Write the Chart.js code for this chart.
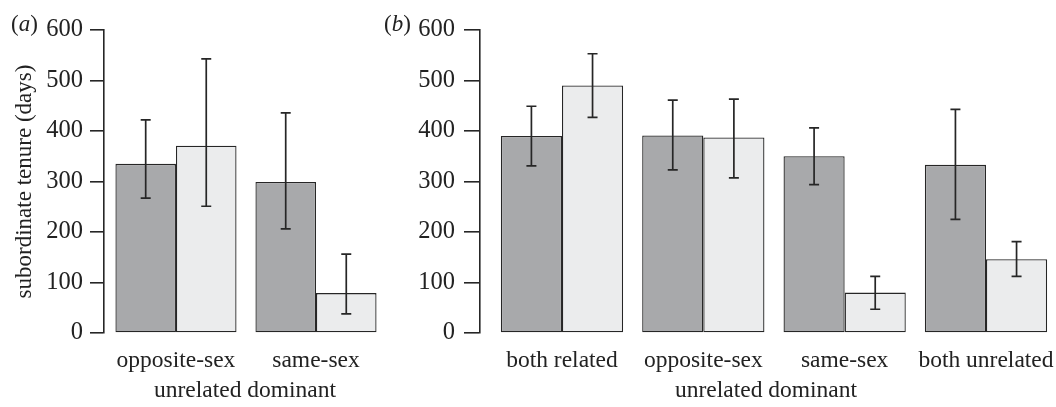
<!DOCTYPE html>
<html>
<head>
<meta charset="utf-8">
<script src="https://cdn.jsdelivr.net/npm/chart.js@4.4.1/dist/chart.umd.min.js"></script>
<style>
  html, body { margin: 0; padding: 0; background: #ffffff; }
  body { width: 1056px; height: 407px; position: relative; overflow: hidden; font-family: "Liberation Serif", serif; color: #222; }
  .wrap { position: absolute; top: 0; height: 407px; }
  #wa { left: 0; width: 400px; }
  #wb { left: 385px; width: 671px; }
  .plabel { position: absolute; line-height: 1; color: #222; font-family: "Liberation Serif", serif; }
  .plabel i { font-style: italic; }
</style>
</head>
<body>
<div class="wrap" id="wa"><canvas id="ca" width="400" height="407"></canvas></div>
<div class="wrap" id="wb"><canvas id="cb" width="671" height="407"></canvas></div>
<div class="plabel" style="left:11px; top:12px; font-size:23px;">(<i>a</i>)</div>
<div class="plabel" style="left:384px; top:12px; font-size:23px;">(<i>b</i>)</div>
<script>
// ---------- data ----------
const yTicks = [0, 100, 200, 300, 400, 500, 600];

const categoriesA = ['opposite-sex', 'same-sex'];
const tenureDarkA = [335, 299];
const lowDarkA    = [267, 206];
const highDarkA   = [422, 436];
const tenureLightA = [371, 79];
const lowLightA    = [251, 38];
const highLightA   = [543, 156];

const categoriesB = ['both related', 'opposite-sex', 'same-sex', 'both unrelated'];
const tenureDarkB = [390, 391, 350, 333];
const lowDarkB    = [331, 323, 294, 225];
const highDarkB   = [449, 461, 406, 443];
const tenureLightB = [490, 387, 80, 146];
const lowLightB    = [427, 307, 47, 112];
const highLightB   = [553, 463, 112, 181];

const xTitle = 'unrelated dominant';
const yTitle = 'subordinate tenure (days)';

// ---------- styles ----------
const DARK = '#a8a9ab';
const LIGHT = '#ebeced';
const LINE = '#262626';
const TEXT = '#222222';
const FONT = '"Liberation Serif", "Times New Roman", serif';

const errorBarPlugin = {
  id: 'errorBars',
  afterDatasetsDraw(chart) {
    const ctx = chart.ctx;
    const ys = chart.scales.y;
    const cap = 5;
    chart.data.datasets.forEach((ds, di) => {
      const meta = chart.getDatasetMeta(di);
      meta.data.forEach((bar, i) => {
        const x = bar.x;
        const y1 = ys.getPixelForValue(ds.errLow[i]);
        const y2 = ys.getPixelForValue(ds.errHigh[i]);
        ctx.save();
        ctx.strokeStyle = LINE;
        ctx.lineWidth = 1.7;
        ctx.beginPath();
        ctx.moveTo(x, y1); ctx.lineTo(x, y2);
        ctx.moveTo(x - cap, y1); ctx.lineTo(x + cap, y1);
        ctx.moveTo(x - cap, y2); ctx.lineTo(x + cap, y2);
        ctx.stroke();
        ctx.restore();
      });
    });
  }
};

function pts(vals) { return vals.map((v, i) => ({ x: i + 1, y: v })); }

function makeChart(canvasId, cats, dark, lowD, highD, light, lowL, highL, cfg) {
  return new Chart(document.getElementById(canvasId), {
    type: 'bar',
    data: {
      datasets: [
        { data: pts(dark), errLow: lowD, errHigh: highD, backgroundColor: DARK,
          borderColor: LINE, borderWidth: 1.3, borderSkipped: false,
          categoryPercentage: 0.865, barPercentage: 1.0 },
        { data: pts(light), errLow: lowL, errHigh: highL, backgroundColor: LIGHT,
          borderColor: LINE, borderWidth: 1.3, borderSkipped: false,
          categoryPercentage: 0.865, barPercentage: 1.0 }
      ]
    },
    options: {
      responsive: false,
      animation: false,
      events: [],
      layout: { padding: { top: 30, right: cfg.padRight, bottom: 0, left: 0 } },
      plugins: { legend: { display: false }, tooltip: { enabled: false } },
      scales: {
        x: {
          type: 'linear',
          offset: false,
          min: cfg.xMin,
          max: cfg.xMax,
          afterBuildTicks: (s) => { s.ticks = cats.map((c, i) => ({ value: i + 1 })); },
          afterFit: (s) => { s.height = 74; s.paddingLeft = 0; s.paddingRight = 0; },
          border: { display: false },
          grid: { display: false, drawTicks: false },
          ticks: {
            autoSkip: false, maxRotation: 0, minRotation: 0,
            padding: 14,
            color: TEXT,
            font: { family: FONT, size: 23.5 },
            callback: (v) => cats[Math.round(v) - 1]
          },
          title: {
            display: true, text: xTitle, color: TEXT,
            font: { family: FONT, size: 23.5 },
            padding: { top: 0, bottom: 2 }
          }
        },
        y: {
          min: 0, max: 600,
          afterBuildTicks: (s) => { s.ticks = yTicks.map(v => ({ value: v })); },
          afterFit: (s) => { s.width = cfg.yWidth; },
          border: { display: true, color: LINE, width: 1.6 },
          grid: { drawOnChartArea: false, drawTicks: true, tickLength: cfg.tickLen, color: LINE, lineWidth: 1.6 },
          ticks: { padding: cfg.tickPad, color: TEXT, font: { family: FONT, size: 24.5 } },
          title: {
            display: cfg.showYTitle, text: yTitle, color: TEXT,
            font: { family: FONT, size: 23 },
            padding: { top: 11, bottom: 0 }
          }
        }
      }
    },
    plugins: [errorBarPlugin]
  });
}

makeChart('ca', categoriesA, tenureDarkA, lowDarkA, highDarkA, tenureLightA, lowLightA, highLightA,
  { padRight: 14, xMin: 0.486, xMax: 2.5, yWidth: 104, tickLen: 14, tickPad: 7, showYTitle: true });

makeChart('cb', categoriesB, tenureDarkB, lowDarkB, highDarkB, tenureLightB, lowLightB, highLightB,
  { padRight: 4, xMin: 0.42, xMax: 4.467, yWidth: 95, tickLen: 16, tickPad: 9, showYTitle: false });
</script>
</body>
</html>
